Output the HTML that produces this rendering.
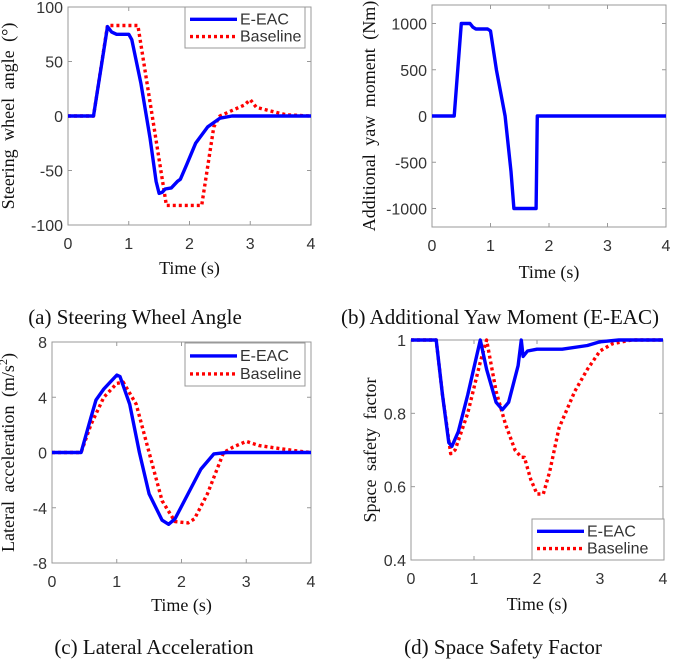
<!DOCTYPE html>
<html><head><meta charset="utf-8"><style>
body{margin:0;background:#fff;width:685px;height:661px;overflow:hidden}
svg{display:block}
.tk{font-family:"Liberation Sans",sans-serif;font-size:16px;fill:#333}
.ser{font-family:"Liberation Serif",serif;fill:#111}
</style></head><body>
<svg id="fig" width="685" height="661" viewBox="0 0 685 661"></svg>
<script>
// Panel (a) steering wheel angle
const aT1=[0,0.42,0.65,0.72,0.8,1.0,1.05,1.2,1.35,1.45,1.5,1.55,1.6,1.7,1.8,1.85,1.95,2.1,2.3,2.5,2.7,4];
const aV1=[0,0,82,77,75,75,70,30,-20,-60,-71,-70,-67,-66,-60,-58,-45,-25,-10,-2,0,0];
const aT2=[0,0.42,0.65,1.15,1.62,2.2,2.4,2.5,2.7,2.9,3.0,3.1,3.3,3.6,4];
const aV2=[0,0,83,83,-82,-82,-10,0,5,10,15,8,5,1,0];
// Panel (b) yaw moment
const bT=[0,0.38,0.5,0.65,0.7,0.75,0.95,1.0,1.1,1.25,1.35,1.4,1.78,1.8,4];
const bV=[0,0,1000,1000,960,940,940,920,500,0,-600,-1000,-1000,0,0];
// Panel (c) lateral acceleration
const cT1=[0,0.45,0.6,0.68,0.8,1.0,1.05,1.2,1.35,1.5,1.7,1.8,1.9,2.1,2.3,2.5,2.7,4];
const cV1=[0,0,2.5,3.8,4.6,5.6,5.5,3.5,0,-3,-4.9,-5.2,-4.8,-3,-1.2,-0.1,0,0];
const cT2=[0,0.45,0.6,0.8,1.0,1.1,1.3,1.5,1.7,1.9,2.1,2.2,2.4,2.65,2.8,3.0,3.2,3.5,3.8,4];
const cV2=[0,0,2,4,5,5.1,3.5,0,-3.5,-5,-5.1,-4.8,-3,0,0.4,0.8,0.5,0.3,0.1,0];
// Panel (d) space safety factor
const dT1=[0,0.4,0.5,0.6,0.65,0.75,0.9,1.1,1.2,1.35,1.45,1.55,1.7,1.75,1.78,1.85,2.0,2.4,2.8,3.0,3.3,4];
const dV1=[1,1,0.85,0.72,0.71,0.75,0.85,1.0,0.92,0.83,0.81,0.83,0.93,1.0,0.955,0.97,0.975,0.975,0.985,0.995,1,1];
const dT2=[0,0.4,0.5,0.63,0.7,0.9,1.1,1.2,1.35,1.5,1.65,1.75,1.8,1.9,2.0,2.1,2.2,2.35,2.6,2.8,3.0,3.2,3.5,4];
const dV2=[1,1,0.85,0.69,0.7,0.8,0.94,1.0,0.86,0.77,0.7,0.68,0.68,0.62,0.58,0.58,0.64,0.76,0.86,0.92,0.97,0.99,1,1];
const xTicks=[0,1,2,3,4];
const aTicks=[-100,-50,0,50,100];
const bTicks=[-1000,-500,0,500,1000];
const cTicks=[-8,-4,0,4,8];
const dTicks=[0.4,0.6,0.8,1];

const NS="http://www.w3.org/2000/svg";
const svg=document.getElementById('fig');
function mk(tag,attrs,parent){const e=document.createElementNS(NS,tag);for(const k in attrs)e.setAttribute(k,attrs[k]);(parent||svg).appendChild(e);return e;}

function panel(id,box,ymin,ymax,yt,series,ylab,ylabX,xlabY,caption,capX,capY,legend){
  const g=mk('g',{});
  
  
  const [L,T,R,B]=box;
  const sx=t=>L+(t-0)/(4-0)*(R-L);
  const sy=v=>B-(v-ymin)/(ymax-ymin)*(B-T);
  const fr=mk('rect',{x:L,y:T,width:R-L,height:B-T,fill:'none',stroke:'#999','stroke-width':1},g);
  
  
  xTicks.forEach(t=>{
    mk('line',{x1:sx(t),x2:sx(t),y1:B,y2:B-4,stroke:'#999'},g);
    mk('line',{x1:sx(t),x2:sx(t),y1:T,y2:T+4,stroke:'#999'},g);
    const tx=mk('text',{x:sx(t),y:B+24,'text-anchor':'middle',class:'tk'},g);tx.textContent=t;
    
    
  });
  yt.forEach(v=>{
    mk('line',{x1:L,x2:L+4,y1:sy(v),y2:sy(v),stroke:'#999'},g);
    mk('line',{x1:R,x2:R-4,y1:sy(v),y2:sy(v),stroke:'#999'},g);
    const tx=mk('text',{x:L-5,y:sy(v)+6,'text-anchor':'end',class:'tk'},g);tx.textContent=v;
    
    
  });
  series.forEach(s=>{
    const d=s.t.map((t,i)=>(i?'L':'M')+sx(t).toFixed(1)+' '+sy(s.v[i]).toFixed(1)).join(' ');
    const p=mk('path',{d:d,fill:'none',stroke:s.c,'stroke-width':3.4,'stroke-dasharray':s.dash||'none','stroke-linejoin':'round'},g);
    
    
  });
  const xl=mk('text',{x:(L+R)/2,y:xlabY,'text-anchor':'middle',class:'ser','font-size':18},g);xl.textContent='Time (s)';
  
  
  const yl=mk('text',{x:0,y:0,'text-anchor':'middle',class:'ser','font-size':18,'word-spacing':'4px',transform:`translate(${ylabX},${(T+B)/2}) rotate(-90)`},g);yl.innerHTML=ylab;
  
  
  const cp=mk('text',{x:capX,y:capY,'text-anchor':'middle',class:'ser','font-size':21},g);cp.textContent=caption;
  
  
  if(legend){
    const [lx,ly,lw,lh]=legend;
    const lg=mk('g',{},g);
    
    
    mk('rect',{x:lx,y:ly,width:lw,height:lh,fill:'#fff',stroke:'#999'},lg);
    const rows=[['E-EAC','#0000ff','none'],['Baseline','#ff0000','3 3']];
    rows.forEach((r,i)=>{
      const yy=ly+lh*(i?0.72:0.3);
      const e=mk('g',{},lg);
      
      
      mk('line',{x1:lx+5,x2:lx+52,y1:yy,y2:yy,stroke:r[1],'stroke-width':3.4,'stroke-dasharray':r[2]},e);
      const t=mk('text',{x:lx+55,y:yy+5,class:'tk','font-size':14,fill:'#222'},e);t.textContent=r[0];
    });
  }
}
const blue='#0000ff',red='#ff0000';
panel('steering-angle',[68,7,311,225],-100,100,aTicks,
  [{t:aT2,v:aV2,c:red,dash:'3 3',n:'baseline'},{t:aT1,v:aV1,c:blue,n:'e-eac'}],
  'Steering wheel angle (°)',14,274,'(a) Steering Wheel Angle',135,324,[185,7,120,41]);
panel('yaw-moment',[432,5,666,227],-1200,1200,bTicks,
  [{t:bT,v:bV,c:blue,n:'e-eac'}],
  'Additional yaw moment (Nm)',375,278,'(b) Additional Yaw Moment (E-EAC)',500,324,null);
panel('lateral-acceleration',[52,342,311,563],-8,8,cTicks,
  [{t:cT2,v:cV2,c:red,dash:'3 3',n:'baseline'},{t:cT1,v:cV1,c:blue,n:'e-eac'}],
  'Lateral acceleration (m/s<tspan baseline-shift="super" font-size="12">2</tspan>)',14,611,'(c) Lateral Acceleration',154,654,[185,343,120,43]);
panel('space-safety-factor',[411,340,663,560],0.4,1,dTicks,
  [{t:dT2,v:dV2,c:red,dash:'3 3',n:'baseline'},{t:dT1,v:dV1,c:blue,n:'e-eac'}],
  'Space safety factor',376,610,'(d) Space Safety Factor',503,654,[532,519,132,41]);
</script>
</body></html>
